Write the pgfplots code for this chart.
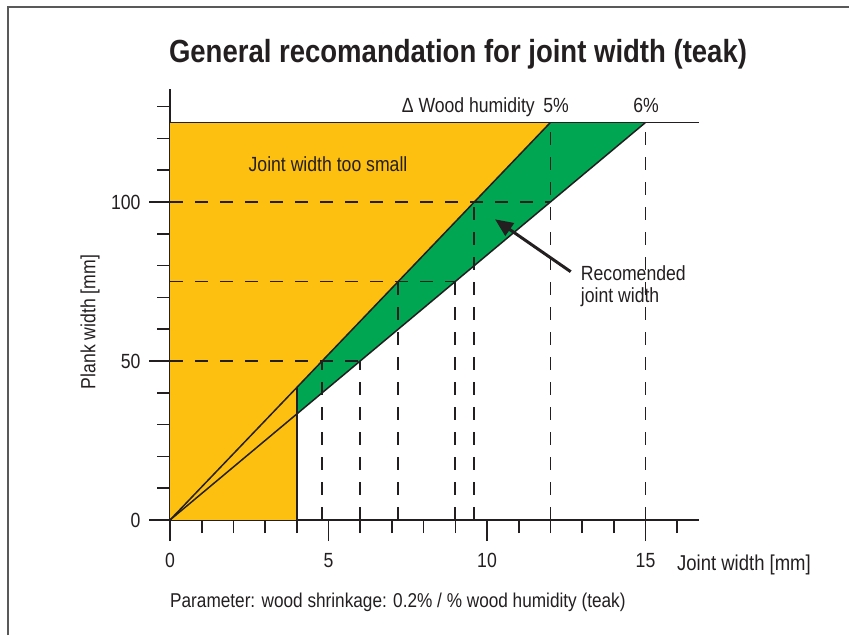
\documentclass[border=0pt]{standalone}
\usepackage{fontspec}
\setmainfont{Liberation Sans}[FakeStretch=0.86]
\usepackage{pgfplots}
\pgfplotsset{compat=1.18}
\usetikzlibrary{arrows.meta}
\definecolor{orng}{HTML}{FDC010}
\definecolor{grn}{HTML}{00A651}
\definecolor{ink}{HTML}{231F20}
\begin{document}
\begin{tikzpicture}
\path[use as bounding box] (0pt,0pt) rectangle (849pt,635pt);
\draw[line width=2pt, black!65] (8pt,0pt) -- (8pt,627.5pt) -- (849pt,627.5pt);
\begin{axis}[
 at={(170pt,115pt)}, anchor=south west,
 scale only axis, width=529.4pt, height=430.6pt,
 xmin=0, xmax=16.7, ymin=0, ymax=135.4,
 clip=false,
 axis lines=left, axis line style={-, line width=1.7pt, color=ink},
 tick align=outside,
 xtick={0,5,10,15}, minor xtick={1,2,3,4,6,7,8,9,11,12,13,14,16},
 ytick={0,50,100}, minor ytick={10,20,30,40,60,70,80,90,110,120,130},
 major tick length=21pt, minor tick length=13pt,
 tick style={line width=1.6pt, color=ink},
 /pgf/number format/assume math mode=true,
 ticklabel style={font=\fontsize{20.5}{24}\selectfont, text=ink},
 xticklabel style={yshift=-9pt},
 yticklabel style={xshift=-5pt},
]
% regions
\addplot[fill=orng, draw=none] coordinates {(0,0) (4,0) (4,41.667) (12,125) (0,125)} -- cycle;
\addplot[fill=grn, draw=none] coordinates {(4,33.333) (4,41.667) (12,125) (15,125)} -- cycle;
% dashed guide lines
\addplot[ink, line width=1.7pt, dash pattern=on 13pt off 12pt] coordinates {(0,50) (6,50)};
\addplot[ink, line width=1.7pt, dash pattern=on 13pt off 12pt] coordinates {(0,75) (9,75)};
\addplot[ink, line width=1.7pt, dash pattern=on 13pt off 12pt] coordinates {(0,100) (12,100)};
\addplot[ink, line width=1.7pt, dash pattern=on 13pt off 12pt] coordinates {(4.8,0) (4.8,50)};
\addplot[ink, line width=1.7pt, dash pattern=on 13pt off 12pt] coordinates {(6,0) (6,50)};
\addplot[ink, line width=1.7pt, dash pattern=on 13pt off 12pt] coordinates {(7.2,0) (7.2,75)};
\addplot[ink, line width=1.7pt, dash pattern=on 13pt off 12pt] coordinates {(9,0) (9,75)};
\addplot[ink, line width=1.7pt, dash pattern=on 13pt off 12pt] coordinates {(9.6,0) (9.6,100)};
\addplot[ink, line width=1.7pt, dash pattern=on 13pt off 12pt] coordinates {(12,0) (12,125)};
\addplot[ink, line width=1.7pt, dash pattern=on 13pt off 12pt] coordinates {(15,0) (15,125)};
% solid lines
\addplot[ink, line width=1.5pt] coordinates {(0,0) (12,125)};
\addplot[ink, line width=1.5pt] coordinates {(0,0) (15,125)};
\addplot[ink, line width=1.5pt] coordinates {(4,0) (4,41.667)};
\addplot[ink, line width=1.7pt] coordinates {(0,125) (16.7,125)};
\end{axis}
\begin{scope}[every node/.style={inner sep=0pt, text=ink, font=\fontsize{20.5}{24}\selectfont}]
\node[anchor=base, font=\fontsize{32}{38}\selectfont\bfseries] at (458pt,572pt) {General recomandation for joint width (teak)};
\node[anchor=base east] at (535pt,522pt) {Δ Wood humidity};
\node[anchor=base] at (556pt,522pt) {5\%};
\node[anchor=base] at (646pt,522pt) {6\%};
\node[anchor=base] at (328pt,463pt) {Joint width too small};
\node[anchor=base west] at (580.7pt,354pt) {Recomended};
\node[anchor=base west] at (580.7pt,332pt) {joint width};
\node[anchor=base west, font=\fontsize{21.5}{24}\selectfont] at (677pt,65pt) {Joint width [mm]};
\node[rotate=90, anchor=center] at (90pt,313pt) {Plank width [mm]};
\node[anchor=base west, font=\fontsize{20}{24}\selectfont] at (170pt,28pt) {Parameter: wood shrinkage: 0.2\% / \% wood humidity (teak)};
\end{scope}
\draw[ink, line width=3pt, -{Triangle[length=18pt,width=15pt]}] (570.7pt,363.3pt) -- (495pt,415.7pt);
\end{tikzpicture}
\end{document}
